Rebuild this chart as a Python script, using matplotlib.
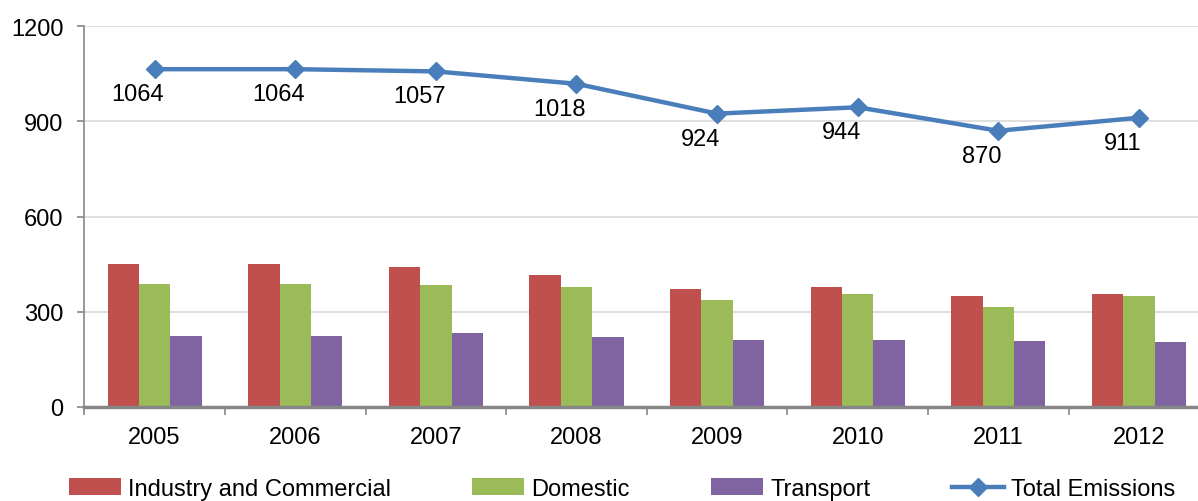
import numpy as np
import matplotlib
matplotlib.use("Agg")
import matplotlib.pyplot as plt

plt.rcParams['font.family'] = ['Liberation Sans', 'DejaVu Sans']

# 数据
years = ["2005", "2006", "2007", "2008", "2009", "2010", "2011", "2012"]
industry = [450, 450, 441, 416, 371, 378, 349, 356]
domestic = [387, 387, 384, 378, 337, 356, 315, 349]
transport = [223, 223, 233, 220, 211, 211, 208, 205]
total = [1064, 1064, 1057, 1018, 924, 944, 870, 911]

c_red = "#C0504D"
c_green = "#9BBB59"
c_purple = "#8064A2"
c_blue = "#4A7EBB"
c_axis = "#868686"
c_grid = "#D9D9D9"
fs = 17

fig = plt.figure(figsize=(11.98, 5.02), dpi=100)
ax = fig.add_axes([84.3 / 1198, 94 / 502, 1125 / 1198, 381 / 502])

x = np.arange(len(years))
w = 0.223
b1 = ax.bar(x - w, industry, w, color=c_red, label="Industry and Commercial", zorder=2)
b2 = ax.bar(x, domestic, w, color=c_green, label="Domestic", zorder=2)
b3 = ax.bar(x + w, transport, w, color=c_purple, label="Transport", zorder=2)
l1, = ax.plot(x, total, color=c_blue, lw=3.2, marker="D", ms=9, label="Total Emissions", zorder=3)

# 数据标签
for xi, v in zip(x, total):
    ax.annotate(str(v), (xi, v), xytext=(-12, -10), textcoords="offset points",
                ha="center", va="top", fontsize=fs, color="black")

ax.set_xlim(-0.5, 7.5)
ax.set_ylim(0, 1200)
ax.set_yticks([0, 300, 600, 900, 1200])
ax.yaxis.grid(True, color=c_grid, lw=1.2, zorder=0)
ax.set_axisbelow(True)

ax.set_xticks(x)
ax.set_xticklabels(years)
ax.set_xticks(np.arange(-0.5, 8, 1), minor=True)
ax.tick_params(axis="x", which="major", length=0, pad=14, labelsize=fs)
ax.tick_params(axis="x", which="minor", length=6, width=1.2, color=c_axis, direction="out")
ax.tick_params(axis="y", length=5, width=1.2, color=c_axis, pad=10, labelsize=fs)

for s in ["top", "right"]:
    ax.spines[s].set_visible(False)
ax.spines["left"].set_color(c_axis)
ax.spines["left"].set_linewidth(1.2)
ax.spines["bottom"].set_color(c_axis)
ax.spines["bottom"].set_linewidth(2.5)

fig.legend([b1, b2, b3, l1], ["Industry and Commercial", "Domestic", "Transport", "Total Emissions"],
           loc="lower left", bbox_to_anchor=(69 / 1198, 1 / 502), ncol=4, frameon=False,
           fontsize=fs, handlelength=2.2, handletextpad=0.3, columnspacing=3.45,
           borderpad=0, borderaxespad=0)

fig.savefig("out.png", dpi=100)
